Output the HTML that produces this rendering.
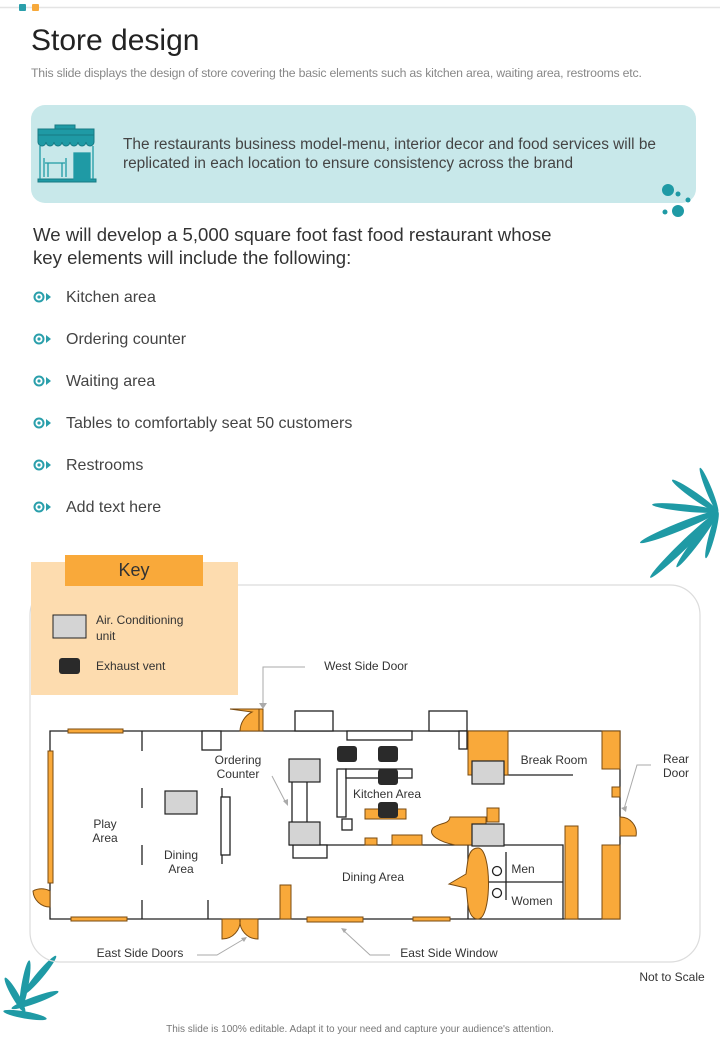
<!DOCTYPE html>
<html><head><meta charset="utf-8"><style>
body{margin:0;width:720px;height:1040px;background:#fff;position:relative;overflow:hidden;font-family:"Liberation Sans",sans-serif}
.a{position:absolute;white-space:nowrap}
</style></head><body>
<svg width="720" height="1040" style="position:absolute;left:0;top:0" font-family="Liberation Sans, sans-serif">
<line x1="0" y1="7.5" x2="720" y2="7.5" stroke="#e4e4e4" stroke-width="1.5"/>
<rect x="19" y="4" width="7" height="7" rx="1" fill="#2a9fab"/>
<rect x="32" y="4" width="7" height="7" rx="1" fill="#f7a93b"/>
<rect x="31" y="105" width="665" height="98" rx="14" fill="#c8e8ea"/>
<g fill="#1f9aa5" stroke="#177a84">
<rect x="55" y="125" width="20" height="6"/>
<rect x="38" y="129" width="56" height="6"/>
<path d="M38 135h56v7a4 4 0 0 1-8 0 4 4 0 0 1-8 0 4 4 0 0 1-8 0 4 4 0 0 1-8 0 4 4 0 0 1-8 0 4 4 0 0 1-8 0 4 4 0 0 1-8 0z"/>
<rect x="38" y="179" width="58" height="3"/>
</g>
<g fill="none" stroke="#1f9aa5" stroke-width="1.3"><line x1="40" y1="146" x2="40" y2="179"/><line x1="93" y1="146" x2="93" y2="179"/>
<rect x="74" y="153" width="16" height="26" fill="#1f9aa5"/><path d="M45 163h20M48 163v14M62 163v14M44 158v19M66 158v19"/></g>
<circle cx="668" cy="190" r="6" fill="#1f9aa5"/><circle cx="678" cy="194" r="2.5" fill="#1f9aa5"/><circle cx="688" cy="200" r="2.5" fill="#1f9aa5"/><circle cx="678" cy="211" r="6" fill="#1f9aa5"/><circle cx="665" cy="212" r="2.5" fill="#1f9aa5"/>
<g fill="none" stroke="#2a9fab" stroke-width="2">
<circle cx="39" cy="297" r="4.5"/><circle cx="39" cy="339" r="4.5"/><circle cx="39" cy="381" r="4.5"/><circle cx="39" cy="423" r="4.5"/><circle cx="39" cy="465" r="4.5"/><circle cx="39" cy="507" r="4.5"/></g>
<g fill="#2a9fab"><circle cx="39" cy="297" r="1.6"/><circle cx="39" cy="339" r="1.6"/><circle cx="39" cy="381" r="1.6"/><circle cx="39" cy="423" r="1.6"/><circle cx="39" cy="465" r="1.6"/><circle cx="39" cy="507" r="1.6"/>
<path d="M46 293l5 4-5 4z"/><path d="M46 335l5 4-5 4z"/><path d="M46 377l5 4-5 4z"/><path d="M46 419l5 4-5 4z"/><path d="M46 461l5 4-5 4z"/><path d="M46 503l5 4-5 4z"/></g>
<g fill="#1f9aa5">
<ellipse cx="709" cy="490" rx="24" ry="3" transform="rotate(-112 709 490)"/>
<ellipse cx="695" cy="496" rx="28" ry="3.5" transform="rotate(215 695 496)"/>
<ellipse cx="685" cy="508" rx="33" ry="3.5" transform="rotate(186 685 508)"/>
<ellipse cx="679" cy="527" rx="42" ry="4" transform="rotate(158 679 527)"/>
<ellipse cx="684" cy="545" rx="47" ry="4" transform="rotate(136 684 545)"/>
<ellipse cx="697" cy="540" rx="34" ry="3.5" transform="rotate(127 697 540)"/>
<ellipse cx="712" cy="535" rx="24" ry="3" transform="rotate(105 712 535)"/>
<ellipse cx="40" cy="975" rx="25" ry="3.5" transform="rotate(-50 40 975)"/>
<ellipse cx="25" cy="985" rx="25" ry="3.5" transform="rotate(-80 25 985)"/>
<ellipse cx="15" cy="995" rx="20" ry="3.5" transform="rotate(-120 15 995)"/>
<ellipse cx="35" cy="1000" rx="25" ry="3.5" transform="rotate(-20 35 1000)"/>
<ellipse cx="25" cy="1015" rx="22" ry="3.5" transform="rotate(10 25 1015)"/>
</g>
<rect x="30" y="585" width="670" height="377" rx="30" fill="none" stroke="#dcdcdc" stroke-width="1.2"/>
<rect x="31" y="562" width="207" height="133" fill="#fddcaf"/>
<rect x="65" y="555" width="138" height="31" fill="#f9a93a"/>
<rect x="53" y="615" width="33" height="23" fill="#d4d4d4" stroke="#222"/>
<rect x="59" y="658" width="21" height="16" rx="3" fill="#2a2a2a"/>
<g stroke="#222" stroke-width="1.3" fill="none">
<path d="M262 731H620V919H50V731H262"/>
<path d="M142 731v20M142 788v20M142 845v20M142 900v19M208 900v19M222 788v76"/>
<rect x="202" y="731" width="19" height="19" fill="#fff"/>
<rect x="221" y="797" width="9" height="58" fill="#fff"/>
<rect x="295" y="711" width="38" height="20" fill="#fff"/>
<rect x="429" y="711" width="38" height="20" fill="#fff"/>
<rect x="347" y="731" width="65" height="9" fill="#fff"/>
<rect x="459" y="731" width="8" height="18" fill="#fff"/>
<path d="M292 782v40M307 782v40M289 845H468"/>
<rect x="293" y="845" width="34" height="13" fill="#fff"/>
<rect x="337" y="769" width="9" height="48" fill="#fff"/>
<rect x="346" y="769" width="66" height="9" fill="#fff"/>
<rect x="342" y="819" width="10" height="11" fill="#fff"/>
<path d="M504 775H573"/>
<path d="M468 845V919M468 845H563V919M488 882H563M506 852V900"/>
<circle cx="497" cy="871" r="4.5"/><circle cx="497" cy="893" r="4.5"/>
</g>
<g fill="#f9a93a" stroke="#7a4b10" stroke-width="1">
<rect x="68" y="729" width="55" height="4"/>
<rect x="48" y="751" width="5" height="132"/>
<rect x="71" y="917" width="56" height="4"/>
<rect x="307" y="917" width="56" height="5"/>
<rect x="413" y="917" width="37" height="4"/>
<path d="M50 891A17 17 0 0 0 33 891 17 17 0 0 0 50 907z"/>
<path d="M222 919v20a18 18 0 0 0 18 -20zM258 919v20a18 18 0 0 1 -18 -20z"/>
<path d="M230 709H260V731H240A22 22 0 0 1 252 712z"/>
<rect x="259" y="709" width="4" height="22"/>
<rect x="280" y="885" width="11" height="34"/>
<rect x="365" y="809" width="41" height="10"/>
<rect x="365" y="838" width="12" height="7"/>
<rect x="392" y="835" width="30" height="10"/>
<rect x="468" y="731" width="40" height="44"/>
<rect x="602" y="731" width="18" height="38"/>
<rect x="612" y="787" width="8" height="10"/>
<path d="M620 817A16 16 0 0 1 636 836H620z"/>
<rect x="602" y="845" width="18" height="74"/>
<rect x="565" y="826" width="13" height="93"/>
<rect x="487" y="808" width="12" height="14"/>
<path d="M450 817H486V845H455C440 842 427 835 433 828 440 822 449 825 450 817z"/>
<path d="M478 848C492 848 492 919 478 919 466 919 468 895 466 888L449 884 466 874C468 860 468 848 478 848z"/>
</g>
<g fill="#d4d4d4" stroke="#222" stroke-width="1.2">
<rect x="165" y="791" width="32" height="23"/>
<rect x="289" y="759" width="31" height="23"/>
<rect x="289" y="822" width="31" height="23"/>
<rect x="472" y="761" width="32" height="23"/>
<rect x="472" y="824" width="32" height="22"/>
</g>
<g fill="#2a2a2a"><rect x="337" y="746" width="20" height="16" rx="3"/><rect x="378" y="746" width="20" height="16" rx="3"/><rect x="378" y="769" width="20" height="16" rx="3"/><rect x="378" y="802" width="20" height="16" rx="3"/></g>
<g stroke="#aaa" stroke-width="1" fill="none">
<path d="M305 667H263V705"/><path d="M272 776L286 803"/><path d="M197 955H217L244 939"/><path d="M390 955H370L343 930"/><path d="M651 765H637L624 809"/>
</g>
<g fill="#aaa"><path d="M259 703h8l-4 6z"/><path d="M283 801l5 5 0-7z"/><path d="M241 938l6-1-3 5z"/><path d="M341 928l6 1-3 4z"/><path d="M621 808l5 4 1-6z"/></g>
<g font-size="12" fill="#333" text-anchor="middle">
<text x="105" y="828">Play</text><text x="105" y="842">Area</text>
<text x="181" y="859">Dining</text><text x="181" y="873">Area</text>
<text x="238" y="764">Ordering</text><text x="238" y="778">Counter</text>
<text x="387" y="798">Kitchen Area</text>
<text x="554" y="764">Break Room</text>
<text x="373" y="881">Dining Area</text>
<text x="523" y="873">Men</text><text x="532" y="905">Women</text>
<text x="676" y="763">Rear</text><text x="676" y="777">Door</text>
<text x="366" y="670">West Side Door</text>
<text x="140" y="957">East Side Doors</text>
<text x="449" y="957">East Side Window</text>
<text x="672" y="981">Not to Scale</text>
<text x="134" y="576" font-size="18">Key</text>
</g>
<g font-size="12" fill="#333"><text x="96" y="624">Air. Conditioning</text><text x="96" y="640">unit</text><text x="96" y="670">Exhaust vent</text></g>
</svg>
<div class="a" style="left:31px;top:24px;font-size:30px;color:#222">Store design</div>
<div class="a" style="left:31px;top:66px;font-size:12.3px;color:#888;letter-spacing:-0.2px">This slide displays the design of store covering the basic elements such as kitchen area, waiting area, restrooms etc.</div>
<div class="a" style="left:123px;top:135px;font-size:15.4px;color:#444;line-height:19px">The restaurants business model-menu, interior decor and food services will be<br>replicated in each location to ensure consistency across the brand</div>
<div class="a" style="left:33px;top:223px;font-size:18.6px;color:#333;line-height:23px">We will develop a 5,000 square foot fast food restaurant whose<br>key elements will include the following:</div>
<div class="a" style="left:66px;top:277px;font-size:16px;color:#444;line-height:42px">Kitchen area<br>Ordering counter<br>Waiting area<br>Tables to comfortably seat 50 customers<br>Restrooms<br>Add text here</div>
<div class="a" style="left:0;width:720px;text-align:center;top:1024px;font-size:10px;color:#777">This slide is 100% editable. Adapt it to your need and capture your audience's attention.</div>
</body></html>
